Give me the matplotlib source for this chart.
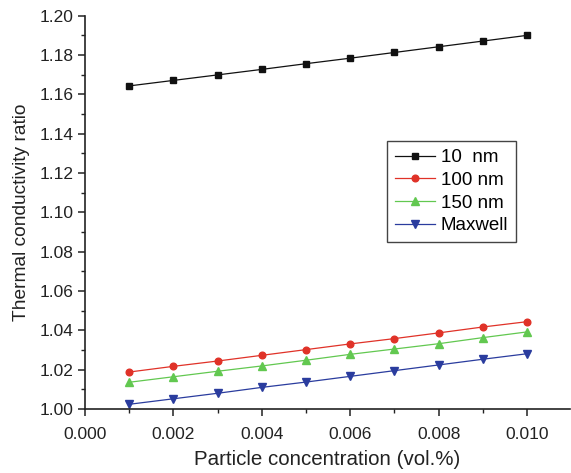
import matplotlib
matplotlib.use("Agg")
import matplotlib.pyplot as plt
from matplotlib.ticker import MultipleLocator, FormatStrFormatter

plt.rcParams['font.family'] = ['Liberation Sans', 'DejaVu Sans']

x = [0.001, 0.002, 0.003, 0.004, 0.005, 0.006, 0.007, 0.008, 0.009, 0.010]
y_10nm = [1.1643, 1.1671, 1.1699, 1.1727, 1.1756, 1.1784, 1.1813, 1.1842, 1.1871, 1.1900]
y_100nm = [1.0188, 1.0217, 1.0244, 1.0273, 1.0302, 1.0331, 1.0358, 1.0387, 1.0417, 1.0444]
y_150nm = [1.0136, 1.0164, 1.0192, 1.0219, 1.0248, 1.0278, 1.0305, 1.0332, 1.0363, 1.0392]
y_maxwell = [1.0024, 1.0052, 1.0080, 1.0110, 1.0137, 1.0166, 1.0195, 1.0224, 1.0253, 1.0281]
labels = ["10  nm", "100 nm", "150 nm", "Maxwell"]

fig = plt.figure(figsize=(5.71, 4.73), dpi=100)
ax = fig.add_axes([0.149, 0.1353, 0.849, 0.8315])

styles = [
    (y_10nm, '#111111', 's', 4.4),
    (y_100nm, '#e03228', 'o', 4.8),
    (y_150nm, '#62c850', '^', 5.2),
    (y_maxwell, '#2a3c9e', 'v', 5.2),
]
for (yy, c, m, ms), lab in zip(styles, labels):
    ax.plot(x, yy, color=c, marker=m, markersize=ms, linewidth=0.9, label=lab)

ax.set_xlim(0.0, 0.01097)
ax.set_ylim(1.00, 1.20)
ax.xaxis.set_major_locator(MultipleLocator(0.002))
ax.xaxis.set_minor_locator(MultipleLocator(0.001))
ax.yaxis.set_major_locator(MultipleLocator(0.02))
ax.yaxis.set_minor_locator(MultipleLocator(0.01))
ax.xaxis.set_major_formatter(FormatStrFormatter('%.3f'))
ax.yaxis.set_major_formatter(FormatStrFormatter('%.2f'))

for s in ['top', 'right']:
    ax.spines[s].set_visible(False)
for s in ['left', 'bottom']:
    ax.spines[s].set_linewidth(1.2)
    ax.spines[s].set_color('#222222')

ax.tick_params(which='major', direction='out', length=5, width=1.1, labelsize=12.5, colors='#222222')
ax.tick_params(which='minor', direction='out', length=3, width=1.0, colors='#222222')
ax.tick_params(axis='x', pad=8)
ax.tick_params(axis='y', pad=3)

ax.set_xlabel('Particle concentration (vol.%)', fontsize=14.8, color='#222222', labelpad=6)
ax.set_ylabel('Thermal conductivity ratio', fontsize=13.8, color='#222222', labelpad=7)

leg = ax.legend(loc='upper left', bbox_to_anchor=(0.623, 0.681), fontsize=13.5,
                frameon=True, fancybox=False, edgecolor='#444444', framealpha=1,
                handlelength=2.15, handletextpad=0.3, borderpad=0.42, labelspacing=0.3,
                borderaxespad=0)
leg.get_frame().set_linewidth(1.0)

fig.savefig('out.png', dpi=100)
